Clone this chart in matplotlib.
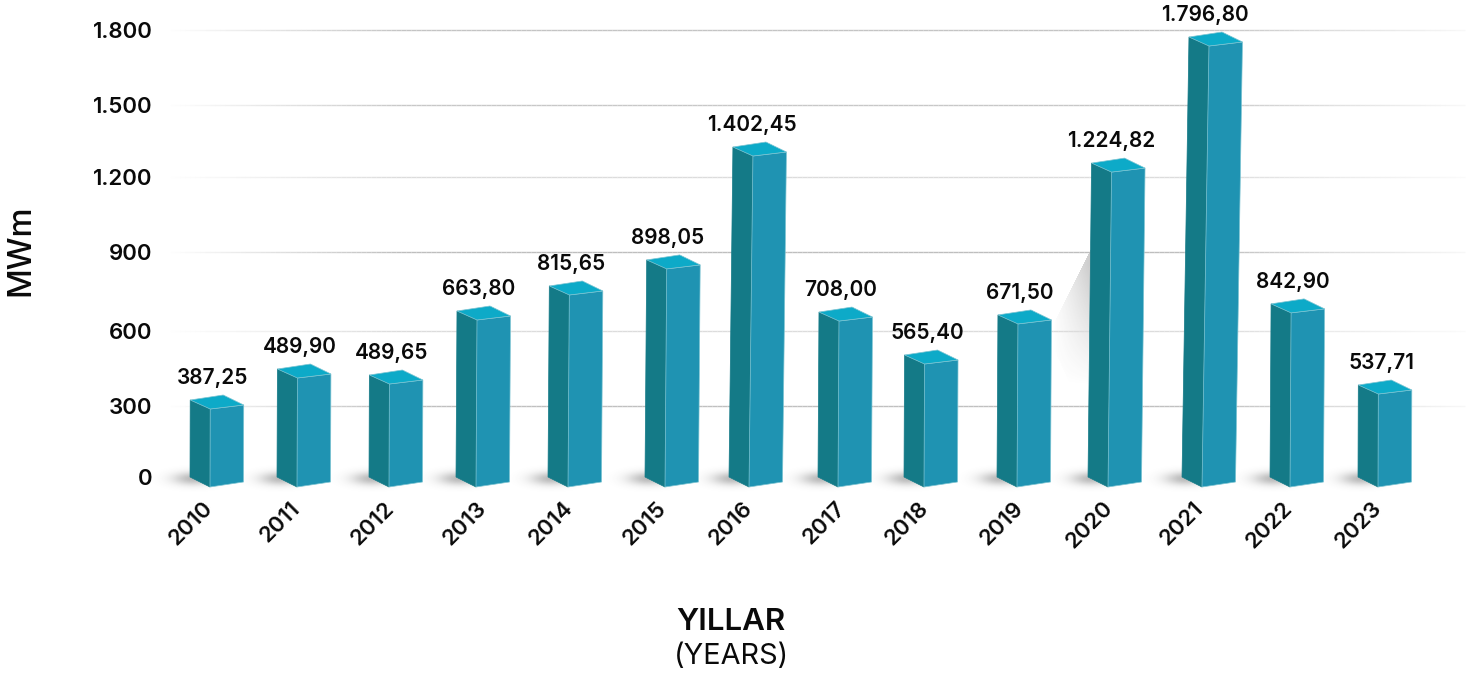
import numpy as np
import matplotlib
matplotlib.use('Agg')
import matplotlib.pyplot as plt
from matplotlib.collections import LineCollection
from matplotlib.patches import Polygon
from matplotlib.path import Path
from matplotlib.transforms import Affine2D, IdentityTransform

plt.rcParams['font.family'] = ['Inter', 'DejaVu Sans']

years = [2010, 2011, 2012, 2013, 2014, 2015, 2016, 2017, 2018, 2019, 2020, 2021, 2022, 2023]
# printed labels above the bars
values = [387.25, 489.90, 489.65, 663.80, 815.65, 898.05, 1402.45,
          708.00, 565.40, 671.50, 1224.82, 1796.80, 842.90, 537.71]
# the drawn bars do not follow the labels, heights
bar_heights = [324, 448, 424, 676, 771, 870, 1325, 672, 504, 661, 1258, 1772, 703, 384]
y_ticks = [0, 300, 600, 900, 1200, 1500, 1800]
grid_grays = ['#ffffff', '#c0c0c0', '#dcdcdc', '#bebebe', '#dcdcdc', '#c8c8c8', '#c4c4c4']

# the original axis is hand drawn, so both scales are uneven (pixels from axes corner)
y_axis_px = [0, 71, 146, 225, 300, 372, 447]
x_axis_px = [0, 87, 179, 266, 358, 455, 539, 628, 714, 807, 898, 992, 1080, 1168]
# year labels are not quite under their bars either
year_label_nudge = [1, 3, 4, 9, 3, 0, 2, 6, 3, 5, 2, 0, -1, 0]

W, H = 1469, 677
LEFT, RIGHT, BASE, TOP = 190, 1358, 477, 30

LEFT_COL = '#147a87'
FRONT_COL = '#1f93b2'
TOP_COL = '#0daac8'
EDGE_COL = '#7cc4d2'


def fmt_tr(v, decimals=2):
    s = f'{v:,.{decimals}f}'
    return s.replace(',', 'X').replace('.', ',').replace('X', '.')


def draw_bar(ax, year, height):
    x, y0 = ax.transData.transform((year, 0))
    _, y1 = ax.transData.transform((year, height))
    lean = 3.6e-5 * (y1 - y0) ** 2

    left = [(x, y0), (x + 20, y0 - 10), (x + 20 + lean, y1 - 9), (x + lean, y1)]
    front = [(x + 20, y0 - 10), (x + 53.5, y0 - 5), (x + 53.5 + lean, y1 - 5), (x + 20 + lean, y1 - 9)]
    top = [(x + lean, y1), (x + 20 + lean, y1 - 9), (x + 53.5 + lean, y1 - 5), (x + 33 + lean, y1 + 5)]

    for pts, col, edge in [(left, LEFT_COL, LEFT_COL), (front, FRONT_COL, EDGE_COL), (top, TOP_COL, EDGE_COL)]:
        ax.add_patch(Polygon(pts, closed=True, fc=col, ec=edge, lw=0.5,
                             transform=IdentityTransform(), clip_on=False, zorder=3))
    ax.annotate(fmt_tr(values[years.index(year)]), xy=(x + 23, y1 + 22), xycoords='figure pixels',
                ha='center', va='center', fontsize=15, fontweight='semibold', color='#0a0a0a', zorder=4)


def draw_background(fig, ax):
    # soft shadows at the foot of the bars and the wedge behind the 2020 bar
    yy, xx = np.mgrid[0:H, 0:W]
    alpha = np.zeros((H, W))

    for year in years:
        x, _ = ax.transData.transform((year, 0))
        dx = xx - (x + 3)
        dy = yy - (BASE + 1)
        alpha = np.maximum(alpha, 0.36 * np.exp(-(dx / 20.0) ** 2 - (dy / 6.5) ** 2))

    wedge = Path([(1052, 326), (1091, 248), (1088, 425), (1052, 345)])
    inside = wedge.contains_points(np.c_[xx.ravel(), yy.ravel()]).reshape(H, W)
    t = np.clip((xx - 1052) / 38.0, 0, 1) * np.clip((385 - yy) / 120.0, 0, 1)
    alpha = np.where(inside, np.maximum(alpha, 0.27 * t), alpha)

    rgba = np.zeros((H, W, 4))
    rgba[..., :3] = 0.25
    rgba[..., 3] = alpha
    fig.figimage(rgba, 0, 0, origin='upper', zorder=0)


def draw_grid(ax):
    xs = np.linspace(165, 1465, 260)
    fade = np.interp(xs, [165, 400, 1200, 1465], [0, 1, 1, 0.1])
    fracs = (xs - LEFT) / (RIGHT - LEFT)
    for tick, gray in zip(y_ticks[1:], grid_grays[1:]):
        pts = np.c_[fracs, np.full_like(fracs, tick)]
        segs = np.stack([pts[:-1], pts[1:]], axis=1)
        cols = np.tile(matplotlib.colors.to_rgba(gray), (len(segs), 1))
        cols[:, 3] = fade[:-1]
        ax.add_collection(LineCollection(segs, colors=cols, linewidths=1.0, clip_on=False,
                                         transform=ax.get_yaxis_transform(), zorder=1))


fig = plt.figure(figsize=(W / 100, H / 100), dpi=100, facecolor='white')
ax = fig.add_axes([LEFT / W, (H - BASE) / H, (RIGHT - LEFT) / W, (BASE - TOP) / H])
ax.patch.set_visible(False)
ax.set_zorder(1)

ax.set_yscale('function', functions=(lambda v: np.interp(v, y_ticks, y_axis_px),
                                     lambda p: np.interp(p, y_axis_px, y_ticks)))
ax.set_xscale('function', functions=(lambda v: np.interp(v, years, x_axis_px),
                                     lambda p: np.interp(p, x_axis_px, years)))
ax.set_xlim(years[0], years[-1])
ax.set_ylim(0, 1800)

for side in ax.spines.values():
    side.set_visible(False)

ax.set_yticks(y_ticks, [fmt_tr(t, 0) for t in y_ticks])
ax.set_xticks(years, [str(y) for y in years], rotation=45, ha='center', va='top')
ax.minorticks_off()
ax.tick_params(axis='y', length=0, pad=27, labelsize=16)
ax.tick_params(axis='x', length=0, pad=15, labelsize=16)
for lab in ax.get_yticklabels() + ax.get_xticklabels():
    lab.set_fontweight('semibold')
    lab.set_color('#0a0a0a')
for lab, nudge in zip(ax.get_xticklabels(), year_label_nudge):
    lab.set_transform(lab.get_transform() + Affine2D().translate(nudge, 0))

draw_background(fig, ax)
draw_grid(ax)

for year, height in zip(years, bar_heights):
    draw_bar(ax, year, height)

fig.text(21 / W, 1 - 250 / H, 'MWm', rotation=90, ha='center', va='center',
         fontsize=23.5, fontweight='medium', color='#0a0a0a', zorder=2)
fig.text(731 / W, 1 - 622 / H, 'YILLAR', ha='center', va='center',
         fontsize=22.5, fontweight='semibold', color='#0a0a0a', zorder=2)
fig.text(731 / W, 1 - 656 / H, '(YEARS)', ha='center', va='center',
         fontsize=20.8, color='#0a0a0a', zorder=2)

fig.savefig('out.png', dpi=100)
